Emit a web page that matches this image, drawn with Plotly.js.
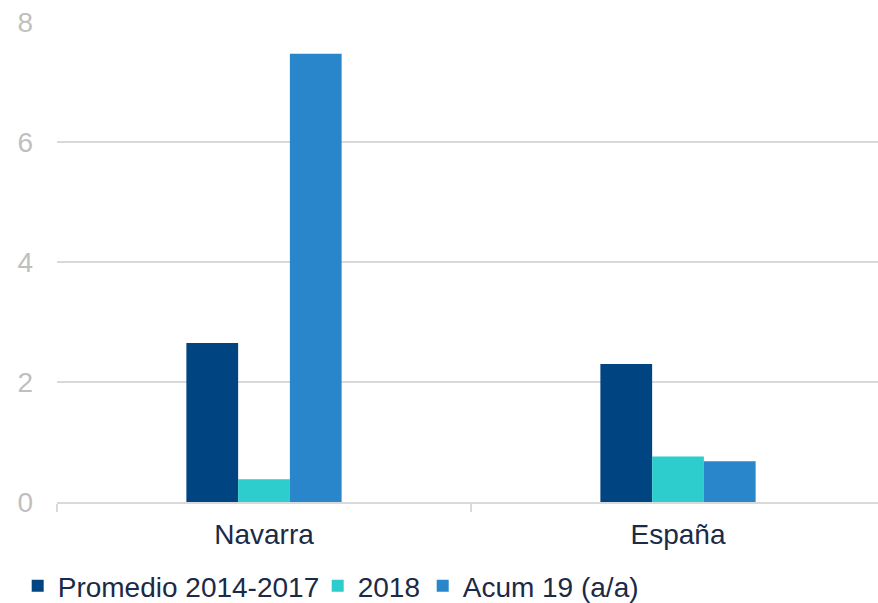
<!DOCTYPE html>
<html>
<head>
<meta charset="utf-8">
<script src="https://cdn.plot.ly/plotly-3.0.1.min.js"></script>
<style>
html,body{margin:0;padding:0;overflow:hidden;background:#fff;}
#chart{width:885px;height:603px;}
</style>
</head>
<body>
<div id="chart"></div>
<script>
var categories = ["Navarra", "España"];
var seriesNames = ["Promedio 2014-2017", "2018", "Acum 19 (a/a)"];
var promedio = [2.65, 2.30];
var y2018 = [0.38, 0.76];
var acum19 = [7.47, 0.68];
var yTicks = [0, 2, 4, 6, 8];
var colors = ["#004481", "#2dcccd", "#2a86ca"];

var values = [promedio, y2018, acum19];
var legendIds = ["legend", "legend2", "legend3"];
var legendX = [17.7, 317.7, 422.7];
var W = 885;

var traces = values.map(function (v, i) {
  return {
    type: "bar",
    name: seriesNames[i],
    x: categories,
    y: v,
    legend: legendIds[i],
    marker: {color: colors[i], line: {width: 0}},
    hoverinfo: "skip"
  };
});

function legendAt(px) {
  return {
    orientation: "h",
    xref: "container",
    yref: "container",
    x: px / W,
    y: 0.028,
    xanchor: "left",
    yanchor: "middle",
    bgcolor: "rgba(0,0,0,0)",
    font: {size: 28, color: "#1b2a47"},
    itemclick: false
  };
}

var layout = {
  width: W,
  height: 603,
  margin: {l: 57, r: 0, t: 22, b: 101, pad: 0},
  paper_bgcolor: "#ffffff",
  plot_bgcolor: "#ffffff",
  font: {family: "Liberation Sans, Arial, sans-serif", size: 28, color: "#1b2a47"},
  barmode: "group",
  bargap: 0.625,
  bargroupgap: 0,
  xaxis: {
    type: "category",
    showgrid: false,
    showline: true,
    linecolor: "#d9d9d9",
    linewidth: 2,
    ticks: "outside",
    tickson: "boundaries",
    ticklen: 8,
    tickwidth: 2,
    tickcolor: "#d9d9d9",
    tickfont: {size: 28, color: "#1b2a47"},
    ticklabelstandoff: 6,
    zeroline: false
  },
  yaxis: {
    range: [0, 8],
    tickvals: yTicks,
    ticktext: yTicks.map(String),
    showgrid: true,
    gridcolor: "#d9d9d9",
    gridwidth: 2,
    zeroline: false,
    showline: false,
    ticks: "",
    tickfont: {size: 28, color: "#bfbfbf"},
    ticklabelstandoff: 23
  },
  showlegend: true,
  legend: legendAt(legendX[0]),
  legend2: legendAt(legendX[1]),
  legend3: legendAt(legendX[2])
};

Plotly.newPlot("chart", traces, layout, {staticPlot: true, displayModeBar: false});
</script>
</body>
</html>
